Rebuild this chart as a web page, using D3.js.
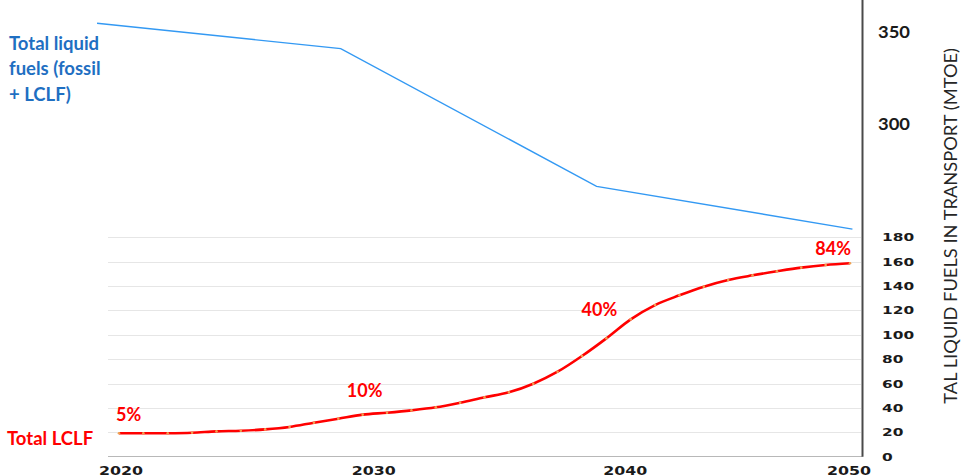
<!DOCTYPE html>
<html>
<head>
<meta charset="utf-8">
<script src="https://cdn.jsdelivr.net/npm/d3@7"></script>
<style>
  html, body { margin: 0; padding: 0; background: #ffffff; }
  svg { display: block; }
</style>
</head>
<body>
<svg id="chart" width="964" height="476"></svg>
<script>
// Years shown on the horizontal axis
const xTickYears = [2020, 2030, 2040, 2050];

// Total LCLF (MTOE), one value per year 2020–2050
const lclfYears = d3.range(2020, 2051);
const lclfValues = [
  19.2, 19.2, 19.3, 19.7, 20.8, 21.3, 22.4, 24.4, 27.9, 31.2,
  34.5, 36.1, 38.0, 40.5, 44.3, 48.7, 52.8, 59.9, 69.7, 82.6,
  97.1, 112.7, 124.4, 132.4, 139.5, 145.0, 148.8, 152.1, 155.1, 157.3,
  158.7
];

// Total liquid fuels (fossil + LCLF), MTOE
const totalYears = [2019.1, 2029.1, 2039.6, 2050.1];
const totalValues = [354.9, 341.1, 266.0, 242.7];

// LCLF share labels
const shareYears = [2020, 2030, 2040, 2050];
const shareLabels = ["5%", "10%", "40%", "84%"];

// Axis tick values
const lowerTicks = [0, 20, 40, 60, 80, 100, 120, 140, 160, 180];
const upperTicks = [300, 350];

const svg = d3.select("#chart");

const x = d3.scaleLinear().domain([2020, 2050]).range([119, 850]);
const yLow = d3.scaleLinear().domain([0, 180]).range([456.7, 237.3]);
const yUp = d3.scaleLinear().domain([300, 350]).range([124, 32.3]);

const gridLeft = 108, gridRight = 861, axisX = 862.5;

// horizontal gridlines of the lower panel
svg.append("g").selectAll("line")
  .data(lowerTicks.filter(d => d > 0))
  .join("line")
  .attr("x1", gridLeft).attr("x2", gridRight)
  .attr("y1", d => Math.round(yLow(d)) + 0.5)
  .attr("y2", d => Math.round(yLow(d)) + 0.5)
  .attr("stroke", "#e6e6e6").attr("stroke-width", 1.2);

// baseline
svg.append("line")
  .attr("x1", gridLeft).attr("x2", axisX)
  .attr("y1", Math.round(yLow(0)) - 0.5).attr("y2", Math.round(yLow(0)) - 0.5)
  .attr("stroke", "#b8b8b8").attr("stroke-width", 1.2);

// right value axis line
svg.append("line")
  .attr("x1", axisX).attr("x2", axisX)
  .attr("y1", 0).attr("y2", yLow(0))
  .attr("stroke", "#4a4a4a").attr("stroke-width", 2);

// lower axis tick labels
svg.append("g").selectAll("text")
  .data(lowerTicks)
  .join("text")
  .attr("x", 882)
  .attr("y", d => yLow(d))
  .attr("dy", "0.36em")
  .attr("font-family", "DejaVu Sans, Verdana, sans-serif")
  .attr("font-weight", "bold")
  .attr("font-size", 11)
  .attr("textLength", d => String(d).length * 10.7)
  .attr("lengthAdjust", "spacingAndGlyphs")
  .attr("fill", "#1a1a1a")
  .text(d => d);

// upper axis tick labels
svg.append("g").selectAll("text")
  .data(upperTicks)
  .join("text")
  .attr("x", 878)
  .attr("y", d => yUp(d))
  .attr("dy", "0.35em")
  .attr("font-family", "Lato, 'Open Sans', sans-serif")
  .attr("font-weight", "bold")
  .attr("font-size", 17)
  .attr("textLength", 32)
  .attr("lengthAdjust", "spacingAndGlyphs")
  .attr("fill", "#1a1a1a")
  .text(d => d);

// year labels (category labels sit slightly right of the plotted year in the middle)
const yearLabelNudge = [2, 11, 19, -1];
svg.append("g").selectAll("text")
  .data(xTickYears)
  .join("text")
  .attr("x", (d, i) => x(d) + yearLabelNudge[i])
  .attr("y", 474.5)
  .attr("text-anchor", "middle")
  .attr("font-family", "DejaVu Sans, Verdana, sans-serif")
  .attr("font-weight", "bold")
  .attr("font-size", 12)
  .attr("textLength", 44)
  .attr("lengthAdjust", "spacingAndGlyphs")
  .attr("fill", "#1a1a1a")
  .text(d => d);

// rotated axis title, cut off at the lower end
svg.append("defs").append("clipPath").attr("id", "titleClip")
  .append("rect").attr("x", 925).attr("y", 0).attr("width", 39).attr("height", 404);
svg.append("g")
  .attr("clip-path", "url(#titleClip)")
  .append("text")
  .attr("transform", "translate(957,48) rotate(-90)")
  .attr("text-anchor", "end")
  .attr("font-family", "Lato, 'Open Sans', sans-serif")
  .attr("font-size", 17)
  .attr("textLength", 380)
  .attr("lengthAdjust", "spacingAndGlyphs")
  .attr("fill", "#262626")
  .text("TOTAL LIQUID FUELS IN TRANSPORT (MTOE)");

// total liquid fuels line
const totalPts = totalYears.map((yr, i) => [x(yr), yUp(totalValues[i])]);
svg.append("path")
  .attr("d", d3.line()(totalPts))
  .attr("fill", "none")
  .attr("stroke", "#3399f3")
  .attr("stroke-width", 1.4);

// LCLF curve with yearly markers
const lclfPts = lclfYears.map((yr, i) => [x(yr), yLow(lclfValues[i])]);
svg.append("path")
  .attr("d", d3.line().curve(d3.curveMonotoneX)(lclfPts))
  .attr("fill", "none")
  .attr("stroke", "#ff0000")
  .attr("stroke-width", 2.6);
svg.append("g").selectAll("circle")
  .data(lclfPts)
  .join("circle")
  .attr("cx", d => d[0]).attr("cy", d => d[1])
  .attr("r", 1.3)
  .attr("fill", "#f0a050");

// share labels placed relative to their data point
const shareOffsets = [[-3, -12, "start"], [2, -18, "middle"], [-7, -22, "middle"], [1, -8, "end"]];
svg.append("g").selectAll("text")
  .data(shareYears)
  .join("text")
  .attr("x", (d, i) => x(d) + shareOffsets[i][0])
  .attr("y", (d, i) => yLow(lclfValues[lclfYears.indexOf(d)]) + shareOffsets[i][1])
  .attr("text-anchor", (d, i) => shareOffsets[i][2])
  .attr("font-family", "Lato, 'Open Sans', sans-serif")
  .attr("font-weight", "bold")
  .attr("font-size", 18)
  .attr("fill", "#ff0000")
  .text((d, i) => shareLabels[i]);

// series names
const blueName = svg.append("text")
  .attr("font-family", "Lato, 'Open Sans', sans-serif")
  .attr("font-weight", "bold")
  .attr("font-size", 18.5)
  .attr("fill", "#1f6fc2");
["Total liquid", "fuels (fossil", "+ LCLF)"].forEach((t, i) => {
  blueName.append("tspan").attr("x", 9).attr("y", 49.5 + i * 25.5).text(t);
});

svg.append("text")
  .attr("x", 7).attr("y", 445)
  .attr("font-family", "Lato, 'Open Sans', sans-serif")
  .attr("font-weight", "bold")
  .attr("font-size", 18.5)
  .attr("fill", "#ff0000")
  .text("Total LCLF");
</script>
</body>
</html>
